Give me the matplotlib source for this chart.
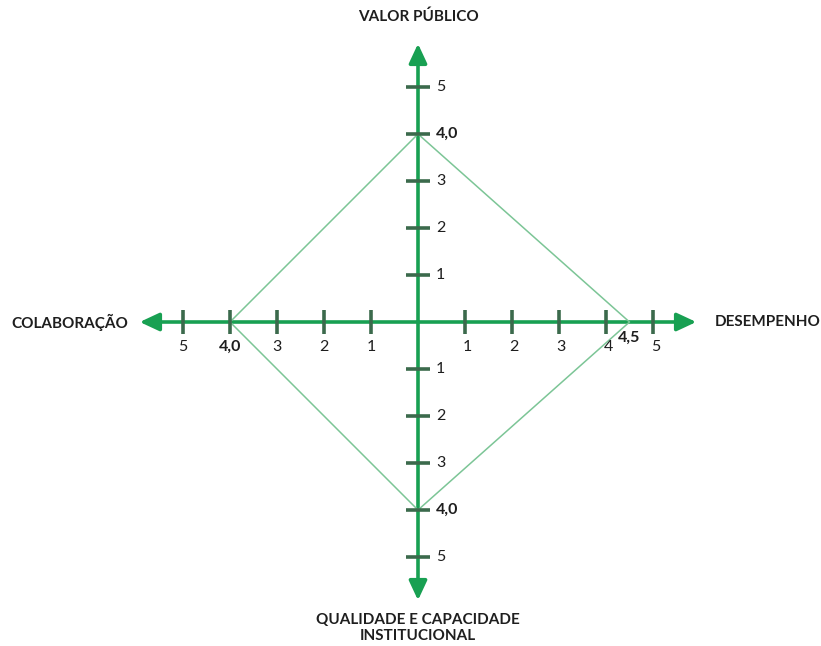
import matplotlib
matplotlib.use("Agg")
import matplotlib.pyplot as plt

# ---- data ----
axis_names = ["VALOR PÚBLICO", "DESEMPENHO", "QUALIDADE E CAPACIDADE\nINSTITUCIONAL", "COLABORAÇÃO"]
axis_dirs = [(0, 1), (1, 0), (0, -1), (-1, 0)]
scores = [4.0, 4.5, 4.0, 4.0]
score_labels = ["4,0", "4,5", "4,0", "4,0"]
tick_values = [1, 2, 3, 4, 5]

AXIS_GREEN = "#18a052"
TICK_COL = "#3b6a4c"
POLY_COL = "#7cc596"
TEXT_COL = "#1e1e1e"
FONT = ["Lato", "DejaVu Sans"]
TICK_FS = 11.5
NAME_FS = 11

fig = plt.figure(figsize=(8.21, 6.46), dpi=100)
ax = fig.add_axes([0, 0, 1, 1])
ax.set_xlim(-418 / 47, 403 / 47)
ax.set_ylim(-324 / 47, 322 / 47)
ax.set_aspect("equal")
ax.axis("off")

reach = 5.92
# axes with arrows
for dx, dy in axis_dirs:
    ax.annotate("", xy=(dx * reach, dy * reach), xytext=(0, 0),
                arrowprops=dict(arrowstyle="-|>,head_length=0.9,head_width=0.42",
                                color=AXIS_GREEN, lw=2.6, mutation_scale=13,
                                shrinkA=0, shrinkB=0), zorder=2)

# polygon of scores
px = [dx * v for (dx, dy), v in zip(axis_dirs, scores)]
py = [dy * v for (dx, dy), v in zip(axis_dirs, scores)]
ax.plot(px + px[:1], py + py[:1], color=POLY_COL, lw=1.1, zorder=3)

# ticks and tick labels
half = 0.26
for (dx, dy), v, sl in zip(axis_dirs, scores, score_labels):
    for t in tick_values:
        x, y = dx * t, dy * t
        if dy == 0:
            ax.plot([x, x], [-half, half], color=TICK_COL, lw=2.6, zorder=4,
                    solid_capstyle="butt")
        else:
            ax.plot([-half, half], [y, y], color=TICK_COL, lw=2.6, zorder=4,
                    solid_capstyle="butt")
        is_score = abs(t - v) < 1e-9
        lab = sl if is_score else str(t)
        weight = "bold" if is_score else "normal"
        if dy == 0:
            ax.text(x + (0.05 if dx > 0 else 0), -0.53, lab, ha="center", va="center",
                    fontsize=TICK_FS, color=TEXT_COL, fontweight=weight, family=FONT)
        else:
            ax.text(0.38, y, lab, ha="left", va="center",
                    fontsize=TICK_FS, color=TEXT_COL, fontweight=weight, family=FONT)
    if abs(v - round(v)) > 1e-9:
        # score between ticks
        if dy == 0:
            ax.text(dx * v, -0.34, sl, ha="center", va="center", fontsize=TICK_FS,
                    color=TEXT_COL, fontweight="bold", family=FONT)
        else:
            ax.text(0.38, dy * v, sl, ha="left", va="center", fontsize=TICK_FS,
                    color=TEXT_COL, fontweight="bold", family=FONT)

# axis names
name_pos = [(0, 6.49, "center", "center"), (7.45, 0, "center", "center"),
            (0, -6.51, "center", "center"), (-7.40, 0, "center", "center")]
for name, (x, y, ha, va) in zip(axis_names, name_pos):
    ax.text(x, y, name, ha=ha, va=va, fontsize=NAME_FS, fontweight="bold",
            color=TEXT_COL, family=FONT, linespacing=1.2)

fig.savefig("out.png", dpi=100, facecolor="white")
